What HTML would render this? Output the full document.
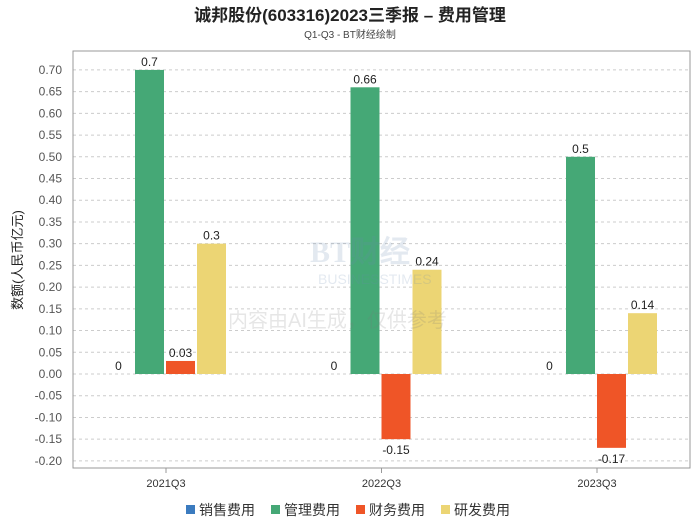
<!DOCTYPE html>
<html><head><meta charset="utf-8"><style>
body{margin:0;background:#fff;font-family:"Liberation Sans","Noto Sans CJK SC",sans-serif}
</style></head><body>
<svg width="700" height="524" xmlns="http://www.w3.org/2000/svg" font-family="Liberation Sans, Noto Sans CJK SC, sans-serif">
<text x="350" y="21" text-anchor="middle" font-size="17" font-weight="bold" fill="#222">诚邦股份(603316)2023三季报 – 费用管理</text>
<text x="350" y="38" text-anchor="middle" font-size="10" fill="#444">Q1-Q3 - BT财经绘制</text>
<g id="grid"></g>
<rect x="73" y="51" width="617" height="417" fill="none" stroke="#999"/>
<g id="bars"></g>
<g opacity="0.18">
<text x="310" y="262" font-size="30" font-family="Liberation Serif, serif" font-weight="bold" fill="#6a8ab0">BT财经</text>
<text x="318" y="284" font-size="14" fill="#6a8ab0">BUSINESSTIMES</text>
<text x="228" y="327" font-size="20" fill="#777">内容由AI生成，仅供参考</text>
</g>
<text transform="translate(22,260) rotate(-90)" text-anchor="middle" font-size="13" fill="#222">数额(人民币亿元)</text>
<g id="legend"></g>
</svg>
<script>
const categories=["2021Q3","2022Q3","2023Q3"];
const seriesNames=["销售费用","管理费用","财务费用","研发费用"];
const colors=["#3b7bbf","#45a876","#ef5527","#ecd574"];
const sales=[0,0,0];
const admin=[0.7,0.66,0.5];
const finance=[0.03,-0.15,-0.17];
const rnd=[0.3,0.24,0.14];
const yTicks=[0.70,0.65,0.60,0.55,0.50,0.45,0.40,0.35,0.30,0.25,0.20,0.15,0.10,0.05,0.00,-0.05,-0.10,-0.15,-0.20];
const NS="http://www.w3.org/2000/svg";
const y=v=>374-v*434.4;
const xc=i=>166+i*215.5;
const grid=document.getElementById('grid'),bars=document.getElementById('bars'),leg=document.getElementById('legend');
function mk(tag,a,p){const e=document.createElementNS(NS,tag);for(const k in a)e.setAttribute(k,a[k]);p.appendChild(e);return e;}
yTicks.forEach(t=>{
 const l=mk('line',{x1:73,x2:690,y1:y(t),y2:y(t),stroke:'#ccc','stroke-dasharray':'3,3'},grid);
 
 
 const tx=mk('text',{x:62,y:y(t)+4,'text-anchor':'end','font-size':12,fill:'#555'},grid);
 tx.textContent=t.toFixed(2);
 
 
});
const series=[sales,admin,finance,rnd];
categories.forEach((c,i)=>{
 const tk=mk('line',{x1:xc(i),x2:xc(i),y1:468,y2:473,stroke:'#999'},grid);
 
 
 const t=mk('text',{x:xc(i),y:487,'text-anchor':'middle','font-size':11,fill:'#333'},grid);
 t.textContent=c;
 
 
 series.forEach((s,j)=>{
  const v=s[i],x0=xc(i)-62+j*31;
  const top=Math.min(y(v),y(0)),h=Math.abs(y(v)-y(0));
  const r=mk('rect',{x:x0,y:top,width:29,height:h,fill:colors[j]},bars);
  
  
  const lb=mk('text',{x:x0+14.5,y:v<0?y(v)+15:y(v)-4,'text-anchor':'middle','font-size':12,fill:'#222'},bars);
  lb.textContent=String(v);
  
  
 });
});
const lx=[186,271,356,441];
seriesNames.forEach((n,j)=>{
 const r=mk('rect',{x:lx[j],y:505,width:9,height:9,fill:colors[j]},leg);
 
 
 const t=mk('text',{x:lx[j]+13,y:515,'font-size':14,fill:'#333'},leg);
 t.textContent=n;
 
 
});
</script>
</body></html>
